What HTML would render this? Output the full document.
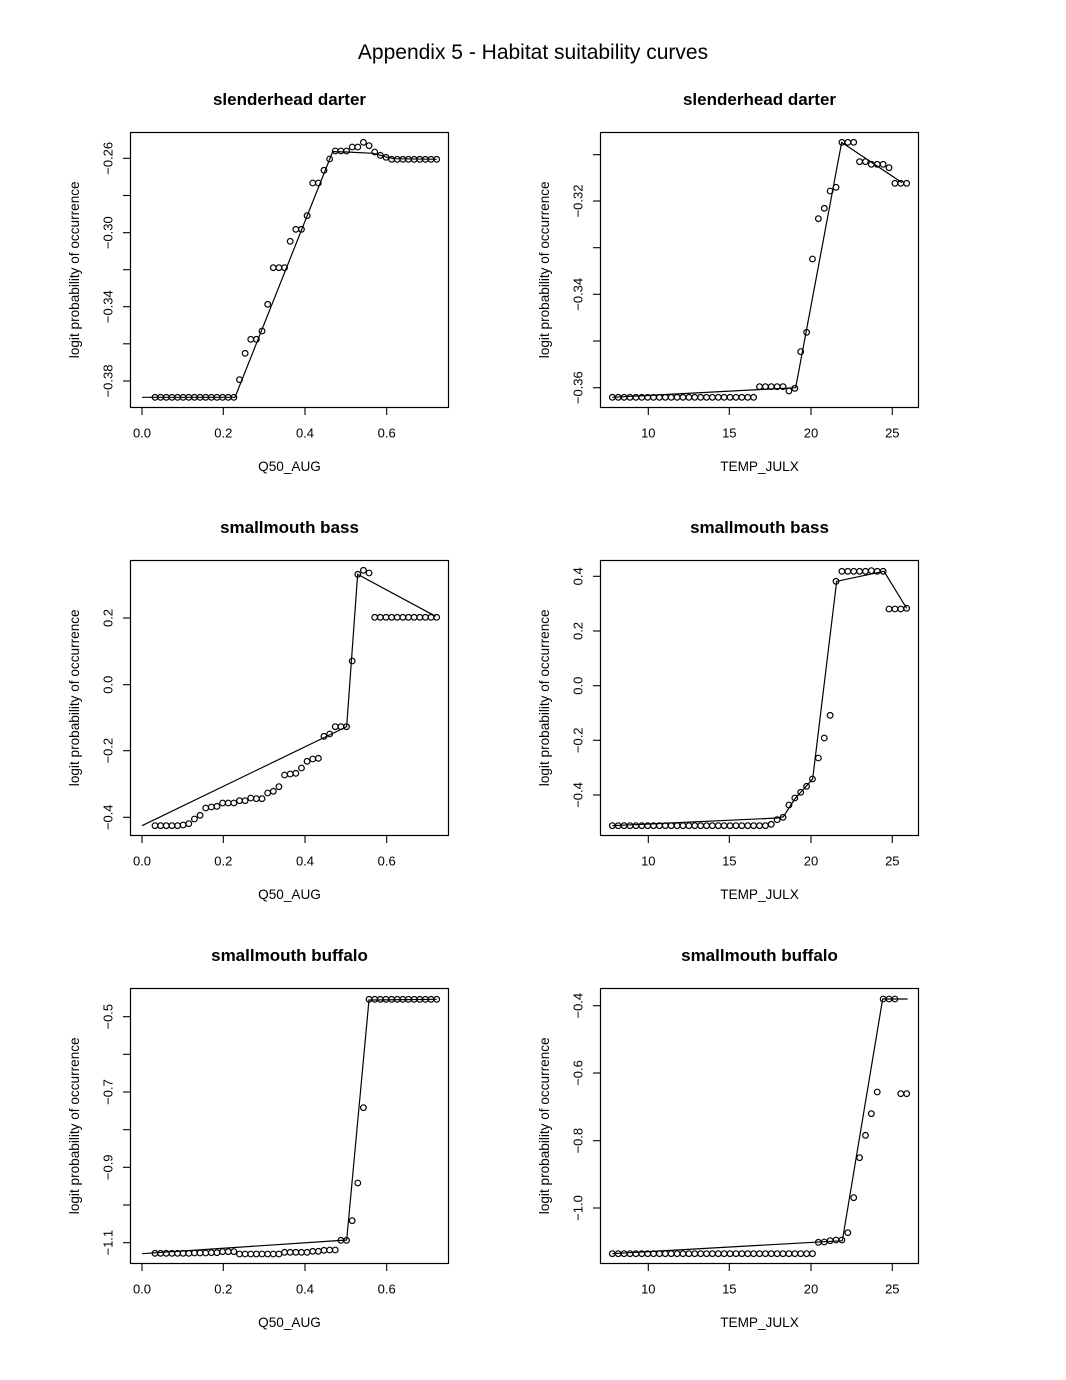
<!DOCTYPE html>
<html><head><meta charset="utf-8"><style>
html,body{margin:0;padding:0;background:#fff}
svg{display:block}
text{font-family:"Liberation Sans",Arial,Helvetica,sans-serif;fill:#000}
.t{font-size:13px}
.l{font-size:13.6px}
.h{font-size:17px;font-weight:bold}
.p circle{fill:none;stroke:#000;stroke-width:3.6}
.p polyline{fill:none;stroke:#000;stroke-width:3.6}
.ax line{stroke:#000;stroke-width:1.1}
.ax rect{fill:none;stroke:#000;stroke-width:1.2}
</style></head><body>
<svg width="1066" height="1380" viewBox="0 0 1066 1380" xmlns="http://www.w3.org/2000/svg">
<rect width="1066" height="1380" fill="#fff"/>
<text x="533" y="59" font-size="21" text-anchor="middle">Appendix 5 - Habitat suitability curves</text>

<g class="ax">
<rect x="130.5" y="132.5" width="318" height="275"/>
<rect x="600.5" y="132.5" width="318" height="275"/>
<rect x="130.5" y="560.5" width="318" height="275"/>
<rect x="600.5" y="560.5" width="318" height="275"/>
<rect x="130.5" y="988.5" width="318" height="275"/>
<rect x="600.5" y="988.5" width="318" height="275"/>

<line x1="142" y1="407.5" x2="142" y2="415"/><line x1="223.3" y1="407.5" x2="223.3" y2="415"/><line x1="305" y1="407.5" x2="305" y2="415"/><line x1="386.7" y1="407.5" x2="386.7" y2="415"/>
<line x1="142" y1="835.5" x2="142" y2="843"/><line x1="223.3" y1="835.5" x2="223.3" y2="843"/><line x1="305" y1="835.5" x2="305" y2="843"/><line x1="386.7" y1="835.5" x2="386.7" y2="843"/>
<line x1="142" y1="1263.5" x2="142" y2="1271"/><line x1="223.3" y1="1263.5" x2="223.3" y2="1271"/><line x1="305" y1="1263.5" x2="305" y2="1271"/><line x1="386.7" y1="1263.5" x2="386.7" y2="1271"/>
<line x1="648.3" y1="407.5" x2="648.3" y2="415"/><line x1="729.3" y1="407.5" x2="729.3" y2="415"/><line x1="811" y1="407.5" x2="811" y2="415"/><line x1="892.3" y1="407.5" x2="892.3" y2="415"/>
<line x1="648.3" y1="835.5" x2="648.3" y2="843"/><line x1="729.3" y1="835.5" x2="729.3" y2="843"/><line x1="811" y1="835.5" x2="811" y2="843"/><line x1="892.3" y1="835.5" x2="892.3" y2="843"/>
<line x1="648.3" y1="1263.5" x2="648.3" y2="1271"/><line x1="729.3" y1="1263.5" x2="729.3" y2="1271"/><line x1="811" y1="1263.5" x2="811" y2="1271"/><line x1="892.3" y1="1263.5" x2="892.3" y2="1271"/>

<line x1="123" y1="158.3" x2="130.5" y2="158.3"/><line x1="123" y1="195.5" x2="130.5" y2="195.5"/><line x1="123" y1="232.7" x2="130.5" y2="232.7"/><line x1="123" y1="269.7" x2="130.5" y2="269.7"/><line x1="123" y1="306.7" x2="130.5" y2="306.7"/><line x1="123" y1="343.8" x2="130.5" y2="343.8"/><line x1="123" y1="381" x2="130.5" y2="381"/>
<line x1="593" y1="154.7" x2="600.5" y2="154.7"/><line x1="593" y1="201" x2="600.5" y2="201"/><line x1="593" y1="247.7" x2="600.5" y2="247.7"/><line x1="593" y1="294.3" x2="600.5" y2="294.3"/><line x1="593" y1="341" x2="600.5" y2="341"/><line x1="593" y1="387.7" x2="600.5" y2="387.7"/>
<line x1="123" y1="618" x2="130.5" y2="618"/><line x1="123" y1="684.7" x2="130.5" y2="684.7"/><line x1="123" y1="750.7" x2="130.5" y2="750.7"/><line x1="123" y1="817.3" x2="130.5" y2="817.3"/>
<line x1="593" y1="576.3" x2="600.5" y2="576.3"/><line x1="593" y1="631" x2="600.5" y2="631"/><line x1="593" y1="685.7" x2="600.5" y2="685.7"/><line x1="593" y1="740.3" x2="600.5" y2="740.3"/><line x1="593" y1="795" x2="600.5" y2="795"/>
<line x1="123" y1="1016.7" x2="130.5" y2="1016.7"/><line x1="123" y1="1054.3" x2="130.5" y2="1054.3"/><line x1="123" y1="1092" x2="130.5" y2="1092"/><line x1="123" y1="1129.7" x2="130.5" y2="1129.7"/><line x1="123" y1="1167.3" x2="130.5" y2="1167.3"/><line x1="123" y1="1205" x2="130.5" y2="1205"/><line x1="123" y1="1242.7" x2="130.5" y2="1242.7"/>
<line x1="593" y1="1005.7" x2="600.5" y2="1005.7"/><line x1="593" y1="1073" x2="600.5" y2="1073"/><line x1="593" y1="1140.7" x2="600.5" y2="1140.7"/><line x1="593" y1="1208" x2="600.5" y2="1208"/>
</g>

<g text-anchor="middle">
<text class="h" x="289.5" y="105">slenderhead darter</text>
<text class="h" x="759.5" y="105">slenderhead darter</text>
<text class="h" x="289.5" y="533">smallmouth bass</text>
<text class="h" x="759.5" y="533">smallmouth bass</text>
<text class="h" x="289.5" y="961">smallmouth buffalo</text>
<text class="h" x="759.5" y="961">smallmouth buffalo</text>

<text class="l" x="289.5" y="471">Q50_AUG</text>
<text class="l" x="759.5" y="471">TEMP_JULX</text>
<text class="l" x="289.5" y="899">Q50_AUG</text>
<text class="l" x="759.5" y="899">TEMP_JULX</text>
<text class="l" x="289.5" y="1327">Q50_AUG</text>
<text class="l" x="759.5" y="1327">TEMP_JULX</text>

<text class="l" transform="translate(79,269.8) rotate(-90)">logit probability of occurrence</text>
<text class="l" transform="translate(549,269.8) rotate(-90)">logit probability of occurrence</text>
<text class="l" transform="translate(79,697.8) rotate(-90)">logit probability of occurrence</text>
<text class="l" transform="translate(549,697.8) rotate(-90)">logit probability of occurrence</text>
<text class="l" transform="translate(79,1125.8) rotate(-90)">logit probability of occurrence</text>
<text class="l" transform="translate(549,1125.8) rotate(-90)">logit probability of occurrence</text>

<text class="t" x="142" y="437.7">0.0</text><text class="t" x="223.3" y="437.7">0.2</text><text class="t" x="305" y="437.7">0.4</text><text class="t" x="386.7" y="437.7">0.6</text>
<text class="t" x="142" y="865.7">0.0</text><text class="t" x="223.3" y="865.7">0.2</text><text class="t" x="305" y="865.7">0.4</text><text class="t" x="386.7" y="865.7">0.6</text>
<text class="t" x="142" y="1293.7">0.0</text><text class="t" x="223.3" y="1293.7">0.2</text><text class="t" x="305" y="1293.7">0.4</text><text class="t" x="386.7" y="1293.7">0.6</text>
<text class="t" x="648.3" y="437.7">10</text><text class="t" x="729.3" y="437.7">15</text><text class="t" x="811" y="437.7">20</text><text class="t" x="892.3" y="437.7">25</text>
<text class="t" x="648.3" y="865.7">10</text><text class="t" x="729.3" y="865.7">15</text><text class="t" x="811" y="865.7">20</text><text class="t" x="892.3" y="865.7">25</text>
<text class="t" x="648.3" y="1293.7">10</text><text class="t" x="729.3" y="1293.7">15</text><text class="t" x="811" y="1293.7">20</text><text class="t" x="892.3" y="1293.7">25</text>

<text class="t" transform="translate(112.5,158.3) rotate(-90)">−0.26</text>
<text class="t" transform="translate(112.5,232.7) rotate(-90)">−0.30</text>
<text class="t" transform="translate(112.5,306.7) rotate(-90)">−0.34</text>
<text class="t" transform="translate(112.5,381) rotate(-90)">−0.38</text>

<text class="t" transform="translate(582.5,201) rotate(-90)">−0.32</text>
<text class="t" transform="translate(582.5,294.3) rotate(-90)">−0.34</text>
<text class="t" transform="translate(582.5,387.7) rotate(-90)">−0.36</text>

<text class="t" transform="translate(112.5,618) rotate(-90)">0.2</text>
<text class="t" transform="translate(112.5,684.7) rotate(-90)">0.0</text>
<text class="t" transform="translate(112.5,750.7) rotate(-90)">−0.2</text>
<text class="t" transform="translate(112.5,817.3) rotate(-90)">−0.4</text>

<text class="t" transform="translate(582.5,576.3) rotate(-90)">0.4</text>
<text class="t" transform="translate(582.5,631) rotate(-90)">0.2</text>
<text class="t" transform="translate(582.5,685.7) rotate(-90)">0.0</text>
<text class="t" transform="translate(582.5,740.3) rotate(-90)">−0.2</text>
<text class="t" transform="translate(582.5,795) rotate(-90)">−0.4</text>

<text class="t" transform="translate(112.5,1016.7) rotate(-90)">−0.5</text>
<text class="t" transform="translate(112.5,1092) rotate(-90)">−0.7</text>
<text class="t" transform="translate(112.5,1167.3) rotate(-90)">−0.9</text>
<text class="t" transform="translate(112.5,1242.7) rotate(-90)">−1.1</text>

<text class="t" transform="translate(582.5,1005.7) rotate(-90)">−0.4</text>
<text class="t" transform="translate(582.5,1073) rotate(-90)">−0.6</text>
<text class="t" transform="translate(582.5,1140.7) rotate(-90)">−0.8</text>
<text class="t" transform="translate(582.5,1208) rotate(-90)">−1.0</text>
</g>

<g class="p" transform="translate(60,120) scale(0.333333)">
<polyline points="246,832 525,832 818,95 860,96 940,100 975,110 1000,116 1130,118"/>
<circle cx="285" cy="832" r="8.5"/><circle cx="301.9" cy="832" r="8.5"/><circle cx="318.8" cy="832" r="8.5"/><circle cx="335.7" cy="832" r="8.5"/><circle cx="352.6" cy="832" r="8.5"/><circle cx="369.5" cy="832" r="8.5"/><circle cx="386.4" cy="832" r="8.5"/><circle cx="403.3" cy="832" r="8.5"/><circle cx="420.2" cy="832" r="8.5"/><circle cx="437.1" cy="832" r="8.5"/><circle cx="454" cy="832" r="8.5"/><circle cx="470.9" cy="832" r="8.5"/><circle cx="487.8" cy="832" r="8.5"/><circle cx="504.7" cy="832" r="8.5"/><circle cx="521.6" cy="832" r="8.5"/>
<circle cx="538.5" cy="779" r="8.5"/><circle cx="555.4" cy="700" r="8.5"/><circle cx="572.3" cy="658" r="8.5"/><circle cx="589.2" cy="658" r="8.5"/><circle cx="606.1" cy="633" r="8.5"/><circle cx="623" cy="553" r="8.5"/><circle cx="639.9" cy="443" r="8.5"/><circle cx="656.8" cy="443" r="8.5"/><circle cx="673.7" cy="443" r="8.5"/><circle cx="690.6" cy="364" r="8.5"/><circle cx="707.5" cy="328" r="8.5"/><circle cx="724.4" cy="328" r="8.5"/><circle cx="741.3" cy="287" r="8.5"/><circle cx="758.2" cy="189" r="8.5"/><circle cx="775.1" cy="189" r="8.5"/><circle cx="792" cy="151" r="8.5"/><circle cx="808.9" cy="117" r="8.5"/><circle cx="825.8" cy="93" r="8.5"/><circle cx="842.7" cy="93" r="8.5"/><circle cx="859.6" cy="93" r="8.5"/><circle cx="876.5" cy="81" r="8.5"/><circle cx="893.4" cy="81" r="8.5"/><circle cx="910.3" cy="67" r="8.5"/><circle cx="927.2" cy="77" r="8.5"/><circle cx="944.1" cy="96" r="8.5"/><circle cx="961" cy="106" r="8.5"/><circle cx="977.9" cy="112" r="8.5"/>
<circle cx="994.8" cy="118" r="8.5"/><circle cx="1011.7" cy="118" r="8.5"/><circle cx="1028.6" cy="118" r="8.5"/><circle cx="1045.5" cy="118" r="8.5"/><circle cx="1062.4" cy="118" r="8.5"/><circle cx="1079.3" cy="118" r="8.5"/><circle cx="1096.2" cy="118" r="8.5"/><circle cx="1113.1" cy="118" r="8.5"/><circle cx="1130" cy="118" r="8.5"/>
</g>

<g class="p" transform="translate(530,120) scale(0.333333)">
<polyline points="247,832 797,803 935,67 1116,188"/>
<circle cx="247" cy="832" r="8.5"/><circle cx="264.7" cy="832" r="8.5"/><circle cx="282.3" cy="832" r="8.5"/><circle cx="300" cy="832" r="8.5"/><circle cx="317.6" cy="832" r="8.5"/><circle cx="335.3" cy="832" r="8.5"/><circle cx="353" cy="832" r="8.5"/><circle cx="370.6" cy="832" r="8.5"/><circle cx="388.3" cy="832" r="8.5"/><circle cx="405.9" cy="832" r="8.5"/><circle cx="423.6" cy="832" r="8.5"/><circle cx="441.3" cy="832" r="8.5"/><circle cx="458.9" cy="832" r="8.5"/><circle cx="476.6" cy="832" r="8.5"/><circle cx="494.2" cy="832" r="8.5"/><circle cx="511.9" cy="832" r="8.5"/><circle cx="529.6" cy="832" r="8.5"/><circle cx="547.2" cy="832" r="8.5"/><circle cx="564.9" cy="832" r="8.5"/><circle cx="582.5" cy="832" r="8.5"/><circle cx="600.2" cy="832" r="8.5"/><circle cx="617.9" cy="832" r="8.5"/><circle cx="635.5" cy="832" r="8.5"/><circle cx="653.2" cy="832" r="8.5"/><circle cx="670.8" cy="832" r="8.5"/>
<circle cx="688.5" cy="800" r="8.5"/><circle cx="706.2" cy="800" r="8.5"/><circle cx="723.8" cy="800" r="8.5"/><circle cx="741.5" cy="800" r="8.5"/><circle cx="759.1" cy="800" r="8.5"/>
<circle cx="776.8" cy="813" r="8.5"/><circle cx="794.5" cy="805" r="8.5"/><circle cx="812.1" cy="695" r="8.5"/><circle cx="829.8" cy="637" r="8.5"/><circle cx="847.4" cy="417" r="8.5"/><circle cx="865.1" cy="296" r="8.5"/><circle cx="882.8" cy="265" r="8.5"/><circle cx="900.4" cy="213" r="8.5"/><circle cx="918.1" cy="202" r="8.5"/>
<circle cx="935.7" cy="67" r="8.5"/><circle cx="953.4" cy="67" r="8.5"/><circle cx="971.1" cy="67" r="8.5"/><circle cx="988.7" cy="125" r="8.5"/><circle cx="1006.4" cy="125" r="8.5"/><circle cx="1024" cy="133" r="8.5"/><circle cx="1041.7" cy="133" r="8.5"/><circle cx="1059.4" cy="133" r="8.5"/><circle cx="1077" cy="143" r="8.5"/><circle cx="1094.7" cy="190" r="8.5"/><circle cx="1112.3" cy="190" r="8.5"/><circle cx="1130" cy="190" r="8.5"/>
</g>

<g class="p" transform="translate(60,548) scale(0.333333)">
<polyline points="246,833 860,536 893,79 1127,205"/>
<circle cx="285" cy="833" r="8.5"/><circle cx="301.9" cy="833" r="8.5"/><circle cx="318.8" cy="833" r="8.5"/><circle cx="335.7" cy="833" r="8.5"/><circle cx="352.6" cy="833" r="8.5"/><circle cx="369.5" cy="831" r="8.5"/><circle cx="386.4" cy="827" r="8.5"/><circle cx="403.3" cy="813" r="8.5"/><circle cx="420.2" cy="802" r="8.5"/><circle cx="437.1" cy="780" r="8.5"/><circle cx="454" cy="777" r="8.5"/><circle cx="470.9" cy="775" r="8.5"/><circle cx="487.8" cy="765" r="8.5"/><circle cx="504.7" cy="765" r="8.5"/><circle cx="521.6" cy="765" r="8.5"/>
<circle cx="538.5" cy="758" r="8.5"/><circle cx="555.4" cy="758" r="8.5"/><circle cx="572.3" cy="750" r="8.5"/><circle cx="589.2" cy="752" r="8.5"/><circle cx="606.1" cy="752" r="8.5"/><circle cx="623" cy="735" r="8.5"/><circle cx="639.9" cy="730" r="8.5"/><circle cx="656.8" cy="716" r="8.5"/><circle cx="673.7" cy="681" r="8.5"/><circle cx="690.6" cy="678" r="8.5"/><circle cx="707.5" cy="676" r="8.5"/><circle cx="724.4" cy="660" r="8.5"/><circle cx="741.3" cy="640" r="8.5"/><circle cx="758.2" cy="633" r="8.5"/><circle cx="775.1" cy="631" r="8.5"/>
<circle cx="792" cy="565" r="8.5"/><circle cx="808.9" cy="558" r="8.5"/><circle cx="825.8" cy="536" r="8.5"/><circle cx="842.7" cy="536" r="8.5"/><circle cx="859.6" cy="536" r="8.5"/><circle cx="876.5" cy="339" r="8.5"/><circle cx="893.4" cy="79" r="8.5"/><circle cx="910.3" cy="67" r="8.5"/><circle cx="927.2" cy="75" r="8.5"/>
<circle cx="944.1" cy="208" r="8.5"/><circle cx="961" cy="208" r="8.5"/><circle cx="977.9" cy="208" r="8.5"/><circle cx="994.8" cy="208" r="8.5"/><circle cx="1011.7" cy="208" r="8.5"/><circle cx="1028.6" cy="208" r="8.5"/><circle cx="1045.5" cy="208" r="8.5"/><circle cx="1062.4" cy="208" r="8.5"/><circle cx="1079.3" cy="208" r="8.5"/><circle cx="1096.2" cy="208" r="8.5"/><circle cx="1113.1" cy="208" r="8.5"/><circle cx="1130" cy="208" r="8.5"/>
</g>

<g class="p" transform="translate(530,548) scale(0.333333)">
<polyline points="247,833 742,810 760,806 795,752 848,693 920,100 1062,70 1130,181"/>
<circle cx="247" cy="833" r="8.5"/><circle cx="264.7" cy="833" r="8.5"/><circle cx="282.3" cy="833" r="8.5"/><circle cx="300" cy="833" r="8.5"/><circle cx="317.6" cy="833" r="8.5"/><circle cx="335.3" cy="833" r="8.5"/><circle cx="353" cy="833" r="8.5"/><circle cx="370.6" cy="833" r="8.5"/><circle cx="388.3" cy="833" r="8.5"/><circle cx="405.9" cy="833" r="8.5"/><circle cx="423.6" cy="833" r="8.5"/><circle cx="441.3" cy="833" r="8.5"/><circle cx="458.9" cy="833" r="8.5"/><circle cx="476.6" cy="833" r="8.5"/><circle cx="494.2" cy="833" r="8.5"/><circle cx="511.9" cy="833" r="8.5"/><circle cx="529.6" cy="833" r="8.5"/><circle cx="547.2" cy="833" r="8.5"/><circle cx="564.9" cy="833" r="8.5"/><circle cx="582.5" cy="833" r="8.5"/><circle cx="600.2" cy="833" r="8.5"/><circle cx="617.9" cy="833" r="8.5"/><circle cx="635.5" cy="833" r="8.5"/><circle cx="653.2" cy="833" r="8.5"/><circle cx="670.8" cy="833" r="8.5"/><circle cx="688.5" cy="833" r="8.5"/><circle cx="706.2" cy="833" r="8.5"/>
<circle cx="723.8" cy="829" r="8.5"/><circle cx="741.5" cy="815" r="8.5"/><circle cx="759.1" cy="808" r="8.5"/><circle cx="776.8" cy="771" r="8.5"/><circle cx="794.5" cy="750" r="8.5"/><circle cx="812.1" cy="733" r="8.5"/><circle cx="829.8" cy="715" r="8.5"/><circle cx="847.4" cy="693" r="8.5"/><circle cx="865.1" cy="630" r="8.5"/><circle cx="882.8" cy="570" r="8.5"/><circle cx="900.4" cy="502" r="8.5"/><circle cx="918.1" cy="100" r="8.5"/>
<circle cx="935.7" cy="70" r="8.5"/><circle cx="953.4" cy="70" r="8.5"/><circle cx="971.1" cy="70" r="8.5"/><circle cx="988.7" cy="70" r="8.5"/><circle cx="1006.4" cy="70" r="8.5"/><circle cx="1024" cy="68" r="8.5"/><circle cx="1041.7" cy="70" r="8.5"/><circle cx="1059.4" cy="70" r="8.5"/>
<circle cx="1077" cy="183" r="8.5"/><circle cx="1094.7" cy="183" r="8.5"/><circle cx="1112.3" cy="183" r="8.5"/><circle cx="1130" cy="181" r="8.5"/>
</g>

<g class="p" transform="translate(60,975) scale(0.333333)">
<polyline points="246,836 860,795 927,75 1130,73"/>
<circle cx="285" cy="835" r="8.5"/><circle cx="301.9" cy="835" r="8.5"/><circle cx="318.8" cy="835" r="8.5"/><circle cx="335.7" cy="835" r="8.5"/><circle cx="352.6" cy="835" r="8.5"/><circle cx="369.5" cy="835" r="8.5"/><circle cx="386.4" cy="835" r="8.5"/><circle cx="403.3" cy="834" r="8.5"/><circle cx="420.2" cy="834" r="8.5"/><circle cx="437.1" cy="834" r="8.5"/><circle cx="454" cy="833" r="8.5"/><circle cx="470.9" cy="833" r="8.5"/><circle cx="487.8" cy="830" r="8.5"/><circle cx="504.7" cy="830" r="8.5"/><circle cx="521.6" cy="830" r="8.5"/>
<circle cx="538.5" cy="837" r="8.5"/><circle cx="555.4" cy="837" r="8.5"/><circle cx="572.3" cy="837" r="8.5"/><circle cx="589.2" cy="837" r="8.5"/><circle cx="606.1" cy="837" r="8.5"/><circle cx="623" cy="837" r="8.5"/><circle cx="639.9" cy="837" r="8.5"/><circle cx="656.8" cy="837" r="8.5"/><circle cx="673.7" cy="832" r="8.5"/><circle cx="690.6" cy="832" r="8.5"/><circle cx="707.5" cy="832" r="8.5"/><circle cx="724.4" cy="832" r="8.5"/><circle cx="741.3" cy="832" r="8.5"/><circle cx="758.2" cy="829" r="8.5"/><circle cx="775.1" cy="829" r="8.5"/>
<circle cx="792" cy="826" r="8.5"/><circle cx="808.9" cy="825" r="8.5"/><circle cx="825.8" cy="825" r="8.5"/><circle cx="842.7" cy="796" r="8.5"/><circle cx="859.6" cy="796" r="8.5"/><circle cx="876.5" cy="737" r="8.5"/><circle cx="893.4" cy="624" r="8.5"/><circle cx="910.3" cy="398" r="8.5"/>
<circle cx="927.2" cy="73" r="8.5"/><circle cx="944.1" cy="73" r="8.5"/><circle cx="961" cy="73" r="8.5"/><circle cx="977.9" cy="73" r="8.5"/><circle cx="994.8" cy="73" r="8.5"/><circle cx="1011.7" cy="73" r="8.5"/><circle cx="1028.6" cy="73" r="8.5"/><circle cx="1045.5" cy="73" r="8.5"/><circle cx="1062.4" cy="73" r="8.5"/><circle cx="1079.3" cy="73" r="8.5"/><circle cx="1096.2" cy="73" r="8.5"/><circle cx="1113.1" cy="73" r="8.5"/><circle cx="1130" cy="73" r="8.5"/>
</g>

<g class="p" transform="translate(530,975) scale(0.333333)">
<polyline points="247,836 937,797 1058,72 1133,72"/>
<circle cx="247" cy="836" r="8.5"/><circle cx="264.7" cy="836" r="8.5"/><circle cx="282.3" cy="836" r="8.5"/><circle cx="300" cy="836" r="8.5"/><circle cx="317.6" cy="836" r="8.5"/><circle cx="335.3" cy="836" r="8.5"/><circle cx="353" cy="836" r="8.5"/><circle cx="370.6" cy="836" r="8.5"/><circle cx="388.3" cy="836" r="8.5"/><circle cx="405.9" cy="836" r="8.5"/><circle cx="423.6" cy="836" r="8.5"/><circle cx="441.3" cy="836" r="8.5"/><circle cx="458.9" cy="836" r="8.5"/><circle cx="476.6" cy="836" r="8.5"/><circle cx="494.2" cy="836" r="8.5"/><circle cx="511.9" cy="836" r="8.5"/><circle cx="529.6" cy="836" r="8.5"/><circle cx="547.2" cy="836" r="8.5"/><circle cx="564.9" cy="836" r="8.5"/><circle cx="582.5" cy="836" r="8.5"/><circle cx="600.2" cy="836" r="8.5"/><circle cx="617.9" cy="836" r="8.5"/><circle cx="635.5" cy="836" r="8.5"/><circle cx="653.2" cy="836" r="8.5"/><circle cx="670.8" cy="836" r="8.5"/><circle cx="688.5" cy="836" r="8.5"/><circle cx="706.2" cy="836" r="8.5"/><circle cx="723.8" cy="836" r="8.5"/><circle cx="741.5" cy="836" r="8.5"/><circle cx="759.1" cy="836" r="8.5"/><circle cx="776.8" cy="836" r="8.5"/><circle cx="794.5" cy="836" r="8.5"/><circle cx="812.1" cy="836" r="8.5"/><circle cx="829.8" cy="836" r="8.5"/><circle cx="847.4" cy="836" r="8.5"/>
<circle cx="865.1" cy="802" r="8.5"/><circle cx="882.8" cy="801" r="8.5"/><circle cx="900.4" cy="797" r="8.5"/><circle cx="918.1" cy="795" r="8.5"/><circle cx="935.7" cy="795" r="8.5"/><circle cx="953.4" cy="773" r="8.5"/><circle cx="971.1" cy="668" r="8.5"/><circle cx="988.7" cy="548" r="8.5"/><circle cx="1006.4" cy="481" r="8.5"/><circle cx="1024" cy="416" r="8.5"/><circle cx="1041.7" cy="351" r="8.5"/>
<circle cx="1059.4" cy="72" r="8.5"/><circle cx="1077" cy="72" r="8.5"/><circle cx="1094.7" cy="72" r="8.5"/><circle cx="1112.3" cy="356" r="8.5"/><circle cx="1130" cy="356" r="8.5"/>
</g>
</svg>
</body></html>
